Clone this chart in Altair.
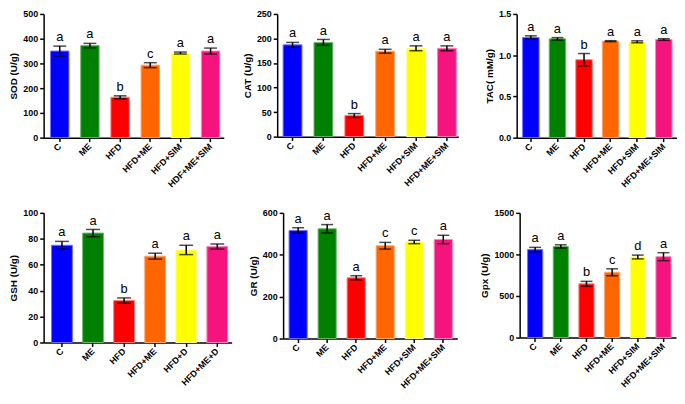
import altair as alt
import pandas as pd

colors = ["#0000FF", "#008000", "#FF0000", "#FF6600", "#FFFF00", "#F5147E"]
edges = ["#6F6FFF", "#6FB56F", "#FF7A7A", "#FFA770", "#FFFF9A", "#F987BC"]

groups_sim = ["C", "ME", "HFD", "HFD+ME", "HFD+SIM", "HFD+ME+SIM"]
groups_sod = ["C", "ME", "HFD", "HFD+ME", "HFD+SIM", "HDF+ME+SIM"]
groups_gsh = ["C", "ME", "HFD", "HFD+ME", "HFD+D", "HFD+ME+D"]

sod_mean = [350, 372, 163, 293, 342, 350]
sod_err = [20, 9, 6, 10, 4, 12]
sod_let = ["a", "a", "b", "c", "a", "a"]

cat_mean = [187, 192, 43, 174, 180, 180]
cat_err = [5, 6, 4, 4, 5, 5]
cat_let = ["a", "a", "b", "a", "a", "a"]

tac_mean = [1.215, 1.198, 0.945, 1.17, 1.162, 1.19]
tac_err = [0.02, 0.015, 0.075, 0.006, 0.012, 0.01]
tac_let = ["a", "a", "b", "a", "a", "a"]

gsh_mean = [75, 84.4, 32.4, 66.6, 71.4, 74]
gsh_err = [3, 2.8, 2, 2.3, 3.6, 2]
gsh_let = ["a", "a", "b", "a", "a", "a"]

gr_mean = [516, 524, 290, 443, 461, 473]
gr_err = [13, 20, 10, 16, 8, 20]
gr_let = ["a", "a", "a", "c", "c", "a"]

gpx_mean = [1058, 1096, 646, 785, 969, 973]
gpx_err = [27, 20, 30, 42, 23, 48]
gpx_let = ["a", "a", "b", "c", "d", "a"]

FONT = "Liberation Sans"

AX = dict(domain=True, ticks=True, grid=False,
          domainColor="black", domainWidth=1.5,
          tickColor="black", tickWidth=1.5, tickSize=4,
          labelFont=FONT, labelFontSize=9, labelFontWeight="bold",
          labelColor="black",
          titleFont=FONT, titleFontSize=10, titleFontWeight="bold",
          titleColor="black", titlePadding=4)


def panel(groups, means, errs, letters, title, ymax, ticks, fmt,
          width, height, pin, left, right, cap):
    step = (width - left - right) / (6 - pin)
    pout = (left + right) / (2 * step)
    align = left / (left + right)
    df = pd.DataFrame({
        "g": groups,
        "i": list(range(len(groups))),
        "m": means,
        "lo": [m - e for m, e in zip(means, errs)],
        "hi": [m + e for m, e in zip(means, errs)],
        "lab": letters,
    })
    xscale = alt.Scale(paddingInner=pin, paddingOuter=pout, align=align)
    xaxis = alt.Axis(labelAngle=-45, labelAlign="right",
                     labelBaseline="middle", labelPadding=3, **AX)
    x = alt.X("g:N", sort=groups, title=None, scale=xscale, axis=xaxis)
    yscale = alt.Scale(domain=[0, ymax], nice=False, zero=True)
    yaxis = alt.Axis(values=ticks, format=fmt, **AX)

    def yenc(field):
        return alt.Y(field, type="quantitative", scale=yscale, axis=yaxis,
                     title=title)

    base = alt.Chart(df)
    bars = base.mark_bar(strokeWidth=1).encode(
        x=x,
        y=yenc("m"),
        color=alt.Color("i:N", scale=alt.Scale(domain=list(range(6)),
                                                range=colors),
                        legend=None),
        stroke=alt.Stroke("i:N", scale=alt.Scale(domain=list(range(6)),
                                                  range=edges),
                          legend=None),
    )
    rule = base.mark_rule(color="black", strokeWidth=1.5).encode(
        x=x, y=yenc("lo"), y2="hi:Q")
    cap_hi = base.mark_tick(color="black", thickness=1.5, size=cap).encode(
        x=x, y=yenc("hi"))
    cap_lo = base.mark_tick(color="black", thickness=1.5, size=cap).encode(
        x=x, y=yenc("lo"))
    text = base.mark_text(baseline="alphabetic", dy=-5, fontSize=13,
                          font=FONT, color="black").encode(
        x=x, y=yenc("hi"), text="lab:N")
    return alt.layer(bars, rule, cap_hi, cap_lo, text).properties(
        width=width, height=height)


p_sod = panel(groups_sod, sod_mean, sod_err, sod_let, "SOD (U/g)", 500,
              [0, 100, 200, 300, 400, 500], "d", 182, 125, 0.39, 7, 4, 13)
p_cat = panel(groups_sim, cat_mean, cat_err, cat_let, "CAT (U/g)", 250,
              [0, 50, 100, 150, 200, 250], "d", 183, 124, 0.39, 6, 2, 13)
p_tac = panel(groups_sim, tac_mean, tac_err, tac_let, "TAC( mM/g)", 1.5,
              [0, 0.5, 1.0, 1.5], ".1f", 162, 125, 0.38, 6, 5, 12)
p_gsh = panel(groups_gsh, gsh_mean, gsh_err, gsh_let, "GSH (U/g)", 100,
              [0, 20, 40, 60, 80, 100], "d", 190, 131, 0.33, 8, 4, 14)
p_gr = panel(groups_sim, gr_mean, gr_err, gr_let, "GR (U/g)", 600,
             [0, 200, 400, 600], "d", 176, 127, 0.375, 6, 5, 12)
p_gpx = panel(groups_sim, gpx_mean, gpx_err, gpx_let, "Gpx (U/g)", 1500,
              [0, 500, 1000, 1500], "d", 158, 126, 0.41, 8, 5, 12)

row1 = alt.hconcat(alt.hconcat(p_sod, p_cat, spacing=18), p_tac, spacing=26)
row2 = alt.hconcat(alt.hconcat(p_gsh, p_gr, spacing=16), p_gpx, spacing=22)

chart = alt.vconcat(row1, row2, spacing=20).properties(
    padding=0, background="white"
).resolve_scale(color="shared").configure_view(stroke=None)

chart.save("out.html", embed_options={"renderer": "svg", "actions": False})
